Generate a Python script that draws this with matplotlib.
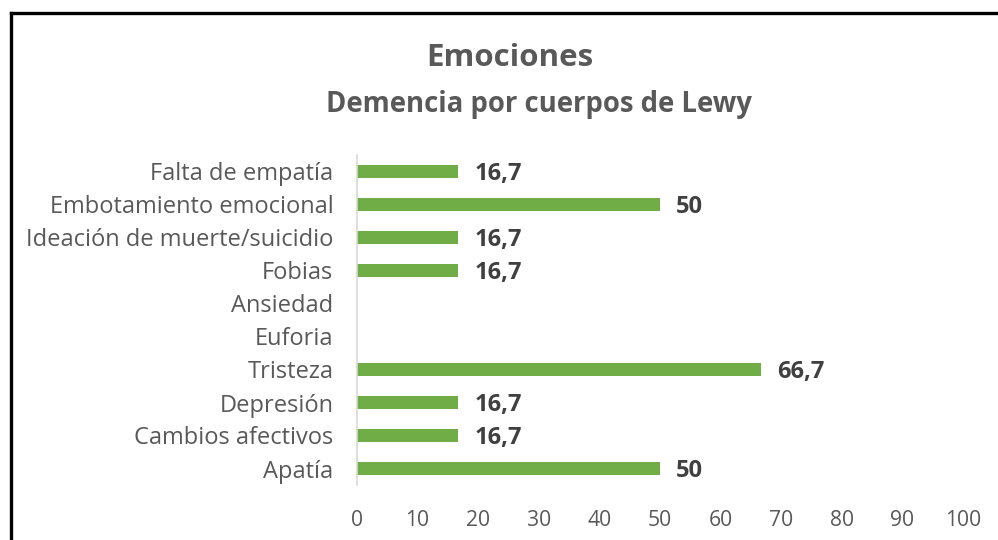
import matplotlib
matplotlib.use("Agg")
import matplotlib.pyplot as plt
from matplotlib.lines import Line2D

categories = ["Apatía", "Cambios afectivos", "Depresión", "Tristeza", "Euforia",
              "Ansiedad", "Fobias", "Ideación de muerte/suicidio",
              "Embotamiento emocional", "Falta de empatía"]
values = [50, 16.7, 16.7, 66.7, 0, 0, 16.7, 16.7, 50, 16.7]
xticks = [0, 10, 20, 30, 40, 50, 60, 70, 80, 90, 100]
title1 = "Emociones"
title2 = "Demencia por cuerpos de Lewy"

FONT = "Open Sans"
plt.rcParams["font.family"] = [FONT, "DejaVu Sans"]

fig = plt.figure(figsize=(9.98, 5.4), dpi=100)
W, H = 998, 540
ax = fig.add_axes([357 / W, 1 - 485 / H, (963 - 357) / W, (485 - 155) / H])

y = list(range(len(categories)))
ax.barh(y, values, height=0.37, color="#70AD47", zorder=2)
ax.set_xlim(0, 100)
ax.set_ylim(-0.5, len(categories) - 0.5)
ax.set_xticks(xticks)
ax.set_xticklabels([str(t) for t in xticks])
ax.set_yticks(y)
ax.set_yticklabels(categories)
ax.tick_params(axis="both", length=0, labelcolor="#595959")
ax.tick_params(axis="x", labelsize=15.2, pad=18)
ax.tick_params(axis="y", labelsize=17, pad=17)
for s in ["top", "right", "bottom"]:
    ax.spines[s].set_visible(False)
ax.spines["left"].set_color("#D9D9D9")
ax.spines["left"].set_linewidth(1.2)

for yi, v in zip(y, values):
    if v > 0:
        lab = ("%g" % v).replace(".", ",")
        ax.annotate(lab, (v, yi), xytext=(11.5, -1.5), textcoords="offset points",
                    ha="left", va="center", fontsize=17, fontweight="bold",
                    color="#404040")

fig.text(510 / W, 1 - 58 / H, title1, ha="center", va="center",
         fontsize=22.5, fontweight="bold", color="#595959")
fig.text(539 / W, 1 - 104 / H, title2, ha="center", va="center",
         fontsize=19.8, fontweight="bold", color="#595959")

# outer frame (left and top edges visible)
fig.add_artist(Line2D([10.5 / W, 10.5 / W], [0, 1 - 13 / H], transform=fig.transFigure,
                      color="black", linewidth=2.4, solid_capstyle="projecting"))
fig.add_artist(Line2D([10.5 / W, 1], [1 - 13 / H, 1 - 13 / H], transform=fig.transFigure,
                      color="black", linewidth=2.4, solid_capstyle="projecting"))

fig.savefig("out.png", dpi=100)
